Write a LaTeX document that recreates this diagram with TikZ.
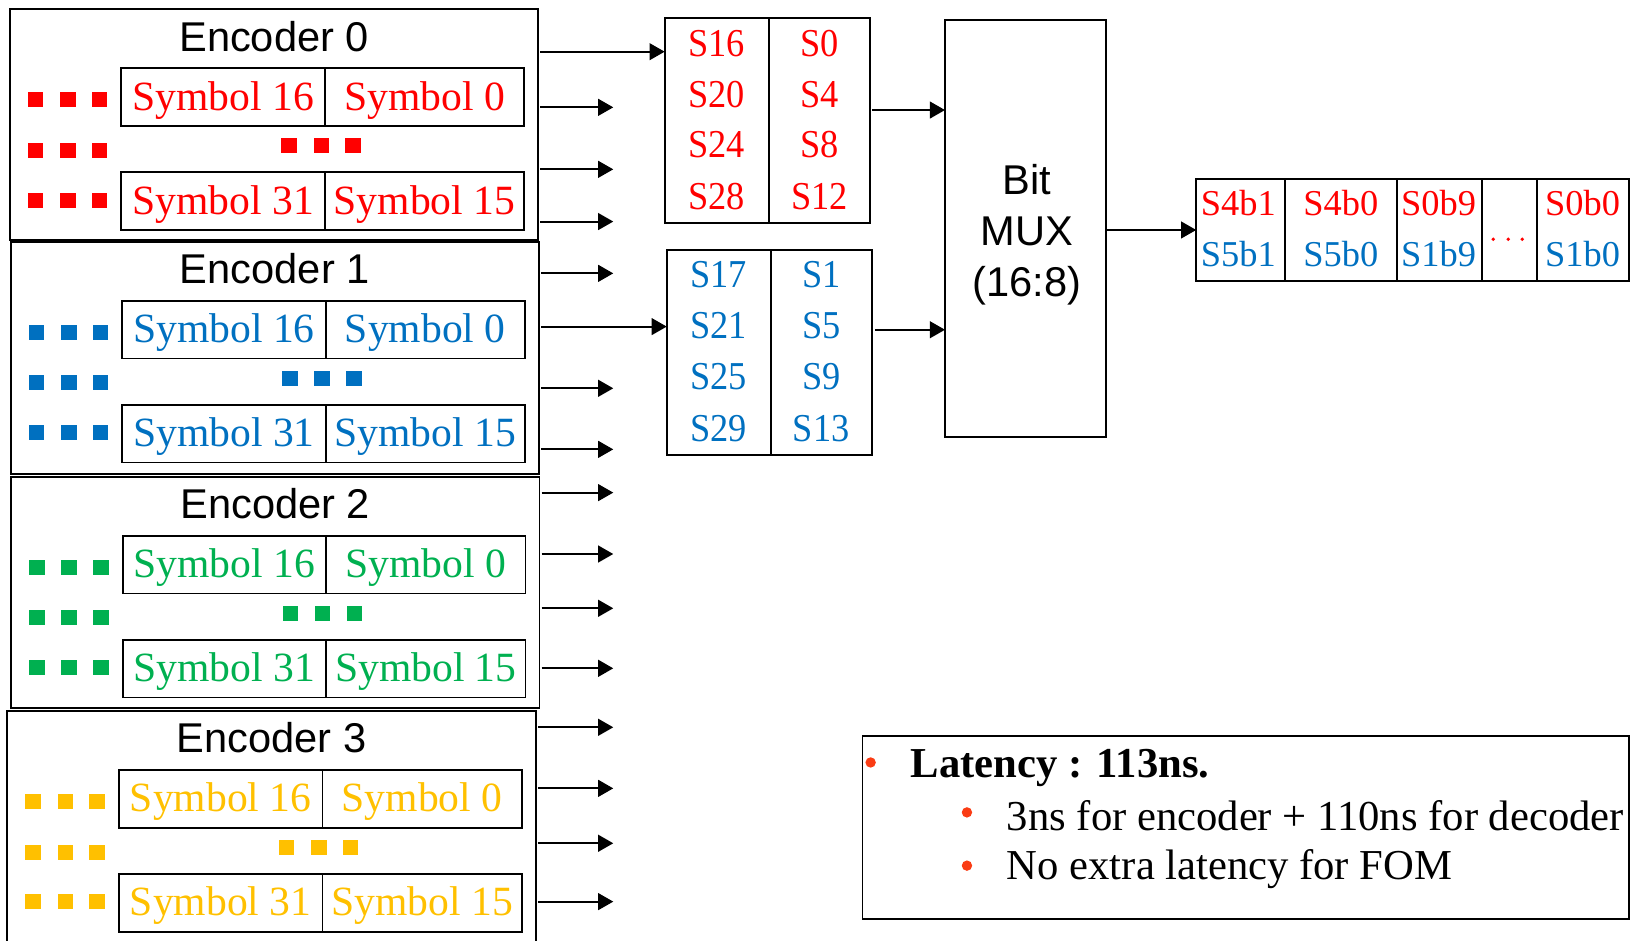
\documentclass[tikz,border=0pt]{standalone}
\usepackage{fontspec}
\usepackage{graphicx}
\setmainfont{Liberation Serif}
\newfontfamily\arialf{Liberation Sans}
\usetikzlibrary{arrows.meta,calc}
\definecolor{sred}{RGB}{255,0,0}
\definecolor{sblue}{RGB}{0,112,192}
\definecolor{sgreen}{RGB}{0,176,80}
\definecolor{sgold}{RGB}{255,192,0}
\definecolor{bul}{RGB}{250,60,20}

\begin{document}
\begin{tikzpicture}[x=1pt,y=-1pt,
  every node/.style={inner sep=0pt, outer sep=0pt},
  frame/.style={draw, line width=1.8pt},
  cell/.style={frame, minimum height=55.3pt, text height=31pt, text depth=6pt,
    font=\fontsize{40}{48}\selectfont},
  ttl/.style={font=\arialf\fontsize{40}{49}\selectfont},
  stxt/.style={font=\fontsize{38}{44}\selectfont},
  otxt/.style={font=\fontsize{35}{40}\selectfont},
  ltxt/.style={font=\fontsize{41}{48}\selectfont, anchor=west},
  arr/.style={line width=2pt, -{Triangle[length=14.5pt,width=16pt]}},
  bulletdot/.style={circle, fill=bul, minimum size=10pt},
]
\useasboundingbox (0,0) rectangle (1568,904);
\clip (0,0) rectangle (1568,904);

% ---- four encoders ----
\foreach \i/\dx/\dy/\h/\col in {0/0/0/222/sred, 1/0.7/223.6/223.5/sblue, 2/1.2/449.6/222/sgreen, 3/-2.4/674.6/240/sgold} {
  \node[frame, minimum width=508pt, minimum height=\h pt] (enc\i) at ({263.5+(\dx)}, {8.7+(\dy)+\h/2}) {};
  \node[ttl] (t\i) at ({263.5+(\dx)}, {35+(\dy)}) {Encoder \i};
  \node[cell, minimum width=195.7pt, text=\col] (a\i) at ({214.55+(\dx)}, {93.35+(\dy)}) {Symbol 16};
  \node[cell, minimum width=191.6pt, text=\col] (b\i) at ({408.2+(\dx)}, {93.35+(\dy)}) {Symbol 0};
  \node[cell, minimum width=195.7pt, text=\col] (c\i) at ({214.55+(\dx)}, {193.35+(\dy)}) {Symbol 31};
  \node[cell, minimum width=191.6pt, text=\col] (d\i) at ({408.2+(\dx)}, {193.35+(\dy)}) {Symbol 15};
  \foreach \sx in {34.2,65.4,95.8} {
    \foreach \sy in {96,144.5,192.3} {
      \fill[\col] ({\sx+(\dx)-7.5}, {\sy+(\dy)-7.2}) rectangle ++(15,14.4);
    }
  }
  \foreach \sx in {278,309,339.5} {
    \fill[\col] ({\sx+(\dx)-7.5}, {140+(\dy)-7.2}) rectangle ++(15,14.4);
  }
}

% ---- outputs of the encoders ----
\foreach \i/\y [count=\k] in {0/103.2, 0/162.8, 0/213, 1/262.8, 1/373.3, 1/432,
    2/473.6, 2/532.6, 2/584.8, 2/642.5, 3/699.2, 3/757.9, 3/810.7, 3/866.8} {
  \coordinate (p\k) at (589.6,\y);
  \draw[arr, shorten <=2pt] (enc\i.east |- p\k) -- (p\k);
}

% ---- symbol groups ----
\node[frame, minimum width=197.5pt, minimum height=196.4pt] (sr) at (737.75,115.8) {};
\draw[line width=1.8pt] ([xshift=1.25pt]sr.north) -- ([xshift=1.25pt]sr.south);
\node[frame, minimum width=197pt, minimum height=197.1pt] (sb) at (739.5,338.85) {};
\draw[line width=1.8pt] ([xshift=1.5pt]sb.north) -- ([xshift=1.5pt]sb.south);

\foreach \l/\r/\y [count=\k] in {S16/S0/41.7, S20/S4/90.7, S24/S8/139.4, S28/S12/189} {
  \node[stxt, text=sred] (srl\k) at (689,\y) {\scalebox{0.92}[1]{\l}};
  \node[stxt, text=sred] (srr\k) at (787.7,\y) {\scalebox{0.92}[1]{\r}};
}
\foreach \l/\r/\y [count=\k] in {S17/S1/264.4, S21/S5/313.4, S25/S9/362, S29/S13/411.8} {
  \node[stxt, text=sblue] (sbl\k) at (691,\y) {\scalebox{0.92}[1]{\l}};
  \node[stxt, text=sblue] (sbr\k) at (789.5,\y) {\scalebox{0.92}[1]{\r}};
}

\coordinate (h0) at (0,49.7);
\coordinate (h1) at (0,314);
\draw[arr, shorten <=2pt] (enc0.east |- h0) -- (sr.west |- h0);
\draw[arr, shorten <=2pt] (enc1.east |- h1) -- (sb.west |- h1);

% ---- bit multiplexer ----
\node[frame, minimum width=154.5pt, minimum height=400.8pt] (mux) at (985.75,219.6) {};
\node[ttl, align=center] (muxt) at (987,225.5) {Bit\\MUX\\(16:8)};
\coordinate (m0) at (0,105.8);
\coordinate (m1) at (0,317);
\draw[arr, shorten <=2pt] (sr.east |- m0) -- (mux.west |- m0);
\draw[arr, shorten <=3pt] (sb.east |- m1) -- (mux.west |- m1);

% ---- output word ----
\node[frame, minimum width=416pt, minimum height=97.4pt] (out) at (1358,221.1) {};
\foreach \x in {1235,1343,1425,1478} {
  \draw[line width=1.8pt] (\x,172.4) -- (\x,269.8);
}
\foreach \x/\r/\b [count=\k] in {1190.5/S4b1/S5b1, 1289/S4b0/S5b0, 1383/S0b9/S1b9, 1521.5/S0b0/S1b0} {
  \node[otxt, text=sred] (or\k) at (\x,195.5) {\r};
  \node[otxt, text=sblue] (ob\k) at (\x,244) {\b};
}
\foreach \x in {1435.6,1450,1463.5} {
  \fill[sred] (\x,230) circle (1.8);
}
\draw[arr] (mux.east |- out.west) -- (out.west);

% ---- latency notes ----
\node[frame, minimum width=736.8pt, minimum height=176.2pt] (lat) at (1197.6,795.4) {};
\node[bulletdot] (b1) at (837,733) {};
\node[ltxt] (l1) at (875.6,738) {\bfseries Latency : 113ns.};
\node[bulletdot] (b2) at (929.6,781) {};
\node[ltxt] (l2) at (968,784.5) {3ns for encoder + 110ns for decoder};
\node[bulletdot] (b3) at (929.6,832.2) {};
\node[ltxt] (l3) at (968,835.5) {No extra latency for FOM};
\end{tikzpicture}
\end{document}
